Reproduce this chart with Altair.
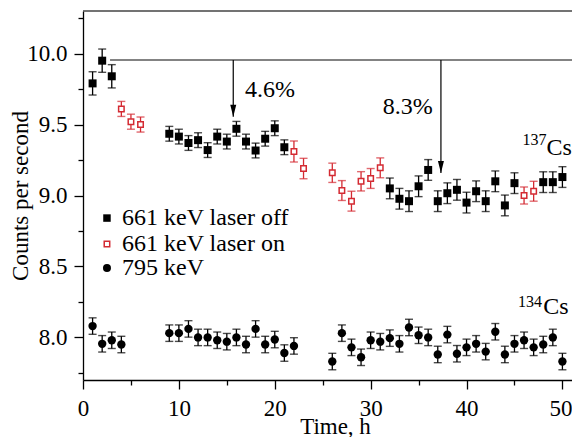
import altair as alt
import pandas as pd

# ---------------- data ----------------
off_t = [1, 2, 3, 9, 10, 11, 12, 13, 14, 15, 16, 17, 18, 19, 20, 21,
         32, 33, 34, 35, 36, 37, 38, 39, 40, 41, 42, 43, 44, 45, 48, 49, 50]
off_v = [9.79, 9.95, 9.84, 9.435, 9.415, 9.37, 9.39, 9.32, 9.415, 9.38, 9.47, 9.38, 9.317, 9.40, 9.474, 9.34,
         9.05, 8.977, 8.96, 9.065, 9.18, 8.96, 9.016, 9.04, 8.95, 9.03, 8.96, 9.10, 8.93, 9.087, 9.094, 9.094, 9.13]
off_e = [0.082, 0.082, 0.082, 0.052, 0.052, 0.052, 0.052, 0.052, 0.052, 0.052, 0.052, 0.052, 0.052, 0.052, 0.052, 0.052,
         0.073, 0.073, 0.073, 0.073, 0.073, 0.073, 0.073, 0.073, 0.073, 0.073, 0.073, 0.073, 0.073, 0.073, 0.073, 0.073, 0.073]

on_t = [4, 5, 6, 22, 23, 26, 27, 28, 29, 30, 31, 46, 47]
on_v = [9.61, 9.52, 9.50, 9.31, 9.19, 9.16, 9.035, 8.96, 9.10, 9.12, 9.195, 9.0, 9.03]
on_e = [0.053, 0.053, 0.053, 0.074, 0.072, 0.068, 0.07, 0.07, 0.068, 0.07, 0.07, 0.06, 0.07]

c_t = [1, 2, 3, 4, 9, 10, 11, 12, 13, 14, 15, 16, 17, 18, 19, 20, 21, 22,
       26, 27, 28, 29, 30, 31, 32, 33, 34, 35, 36, 37, 38, 39, 40, 41, 42, 43, 44, 45, 46, 47, 48, 49, 50]
c_v = [8.08, 7.955, 7.98, 7.95, 8.03, 8.03, 8.06, 8.0, 8.0, 7.98, 7.97, 8.0, 7.95, 8.06, 7.95, 7.985, 7.89, 7.94,
       7.83, 8.03, 7.93, 7.86, 7.98, 7.97, 7.995, 7.955, 8.07, 8.015, 8.0, 7.88, 8.02, 7.885, 7.93, 7.955, 7.90,
       8.04, 7.88, 7.955, 7.98, 7.93, 7.95, 8.0, 7.83]
c_e = [0.058, 0.058, 0.058, 0.058, 0.058, 0.058, 0.058, 0.058, 0.058, 0.058, 0.058, 0.058, 0.058,
       0.058, 0.058, 0.058, 0.058, 0.058, 0.058, 0.058, 0.058, 0.058, 0.058, 0.058, 0.058, 0.058, 0.058, 0.058,
       0.058, 0.058, 0.058, 0.058, 0.058, 0.058, 0.058, 0.058, 0.058, 0.058, 0.058, 0.058, 0.058, 0.058, 0.058]

# reference line and arrows (data units)
ref_level = 9.955
ref_t = [2.82, 51.3]
arrow_t = [15.67, 37.33]
arrow_tip = [9.555, 9.158]

# annotation texts
pct_text = ["4.6%", "8.3%"]
pct_t = [16.89, 31.25]
pct_v = [9.694, 9.574]
iso_sup = ["137", "134"]
iso_sup_t = [45.85, 45.36]
iso_sup_v = [9.356, 8.216]
iso_main = ["Cs", "Cs"]
iso_main_t = [48.35, 48.0]
iso_main_v = [9.285, 8.163]

# legend
leg_labels = ["661 keV laser off", "661 keV laser on", "795 keV"]
leg_t = 2.5
leg_text_t = 4.07
leg_v = [8.841, 8.658, 8.489]

X_DOMAIN = [0, 51.0]
Y_DOMAIN = [7.7, 10.3]
W, H = 489, 369
RED = "#d42a32"
FONT = "Liberation Serif"

# ---------------- frames ----------------
def mk(t, v, e):
    return pd.DataFrame({"t": t, "v": v, "lo": [a - b for a, b in zip(v, e)], "hi": [a + b for a, b in zip(v, e)]})

off_df = mk(off_t, off_v, off_e)
on_df = mk(on_t, on_v, on_e)
c_df = mk(c_t, c_v, c_e)

xaxis = alt.Axis(
    title="Time, h", values=list(range(0, 55, 5)), format="d",
    labelExpr="datum.value % 10 === 0 ? datum.label : ''",
    tickSize={"condition": {"test": "datum.value % 10 === 0", "value": 9}, "value": 5},
    labelOffset={"condition": {"test": "datum.value === 50", "value": -2}, "value": 0},
    grid=False, domainColor="black", tickColor="black", domainWidth=1.3, tickWidth=1.3,
    labelFontSize=23, titleFontSize=23, labelPadding=8, labelFlush=False,
    titleX=252, titleY=53, titleBaseline="alphabetic", titleAlign="center",
)
yaxis = alt.Axis(
    title="Counts per second", values=[7.75, 8.0, 8.25, 8.5, 8.75, 9.0, 9.25, 9.5, 9.75, 10.0, 10.25],
    format=".1f",
    labelExpr="abs(datum.value*2 - round(datum.value*2)) < 0.001 ? datum.label : ''",
    tickSize={"condition": {"test": "abs(datum.value*2 - round(datum.value*2)) < 0.001", "value": 9}, "value": 5},
    grid=False, domainColor="black", tickColor="black", domainWidth=1.3, tickWidth=1.3,
    labelFontSize=23, titleFontSize=23, labelPadding=7, labelFlush=False,
    titleX=-63, titleY=H / 2, titleBaseline="middle", titleAlign="center", titleAngle=270,
)
xs = alt.Scale(domain=X_DOMAIN, nice=False, zero=False)
ys = alt.Scale(domain=Y_DOMAIN, nice=False, zero=False)

def X(f="t"):
    return alt.X(f"{f}:Q", scale=xs, axis=xaxis)

def Y(f="v"):
    return alt.Y(f"{f}:Q", scale=ys, axis=yaxis)

def errbars(df, color):
    rule = alt.Chart(df).mark_rule(color=color, strokeWidth=1.3).encode(x=X(), y=Y("lo"), y2="hi:Q")
    cap_lo = alt.Chart(df).mark_tick(color=color, orient="horizontal", size=8, thickness=1.4).encode(x=X(), y=Y("lo"))
    cap_hi = alt.Chart(df).mark_tick(color=color, orient="horizontal", size=8, thickness=1.4).encode(x=X(), y=Y("hi"))
    return [rule, cap_lo, cap_hi]

layers = []

# top frame line
layers.append(alt.Chart(pd.DataFrame({"a": [0]})).mark_rule(color="#444444", strokeWidth=1.5).encode(
    x=alt.value(0), x2=alt.value(W), y=alt.value(0)))

# reference line
ref_df = pd.DataFrame({"t": [ref_t[0]], "t2": [ref_t[1]], "v": [ref_level]})
layers.append(alt.Chart(ref_df).mark_rule(color="#5a5a5a", strokeWidth=1.5).encode(x=X(), x2="t2:Q", y=Y()))

# arrows
arr_df = pd.DataFrame({"t": arrow_t, "v": [ref_level] * len(arrow_t), "tip": arrow_tip})
layers.append(alt.Chart(arr_df).mark_rule(color="black", strokeWidth=1.2).encode(x=X(), y=Y(), y2="tip:Q"))
layers.append(alt.Chart(arr_df).mark_point(shape="M-0.5,-2L0.5,-2L0,0Z", size=144, filled=True,
                                           color="black", opacity=1, strokeWidth=0).encode(x=X(), y=Y("tip")))

# error bars
layers += errbars(off_df, "black")
layers += errbars(on_df, RED)
layers += errbars(c_df, "black")

# markers
layers.append(alt.Chart(off_df).mark_point(shape="square", size=64, filled=True, color="black", opacity=1).encode(x=X(), y=Y()))
layers.append(alt.Chart(on_df).mark_point(shape="square", size=30, filled=False, fill="white", fillOpacity=1,
                                          stroke=RED, strokeWidth=1.5, opacity=1).encode(x=X(), y=Y()))
layers.append(alt.Chart(c_df).mark_point(shape="circle", size=70, filled=True, color="black", opacity=1).encode(x=X(), y=Y()))

# annotation text
pct_df = pd.DataFrame({"t": pct_t, "v": pct_v, "s": pct_text})
layers.append(alt.Chart(pct_df).mark_text(font=FONT, fontSize=24, align="left", baseline="alphabetic", color="black")
              .encode(x=X(), y=Y(), text="s:N"))
sup_df = pd.DataFrame({"t": iso_sup_t, "v": iso_sup_v, "s": iso_sup})
layers.append(alt.Chart(sup_df).mark_text(font=FONT, fontSize=16, align="left", baseline="alphabetic", color="black")
              .encode(x=X(), y=Y(), text="s:N"))
main_df = pd.DataFrame({"t": iso_main_t, "v": iso_main_v, "s": iso_main})
layers.append(alt.Chart(main_df).mark_text(font=FONT, fontSize=24, align="left", baseline="alphabetic", color="black")
              .encode(x=X(), y=Y(), text="s:N"))

# legend (drawn manually)
leg_df = pd.DataFrame({"t": [leg_t] * 3, "v": leg_v, "tt": [leg_text_t] * 3, "s": leg_labels})
layers.append(alt.Chart(leg_df.iloc[[0]]).mark_point(shape="square", size=56, filled=True, color="black", opacity=1)
              .encode(x=X(), y=Y()))
layers.append(alt.Chart(leg_df.iloc[[1]]).mark_point(shape="square", size=30, filled=False, fill="white", fillOpacity=1,
                                                     stroke=RED, strokeWidth=1.5, opacity=1).encode(x=X(), y=Y()))
layers.append(alt.Chart(leg_df.iloc[[2]]).mark_point(shape="circle", size=64, filled=True, color="black", opacity=1)
              .encode(x=X(), y=Y()))
layers.append(alt.Chart(leg_df).mark_text(font=FONT, fontSize=24, align="left", baseline="middle", color="black")
              .encode(x=X("tt"), y=Y(), text="s:N"))

chart = alt.layer(*layers).properties(
    width=W, height=H,
    autosize=alt.AutoSizeParams(type="none"),
    padding={"left": 75, "top": 3, "right": 0, "bottom": 57},
).configure(font=FONT).configure_view(strokeWidth=0).configure_axis(
    labelFont=FONT, titleFont=FONT, titleFontWeight="normal", labelColor="black", titleColor="black",
).configure_text(font=FONT)

chart.save("out.html", embed_options={"renderer": "svg", "actions": False})
